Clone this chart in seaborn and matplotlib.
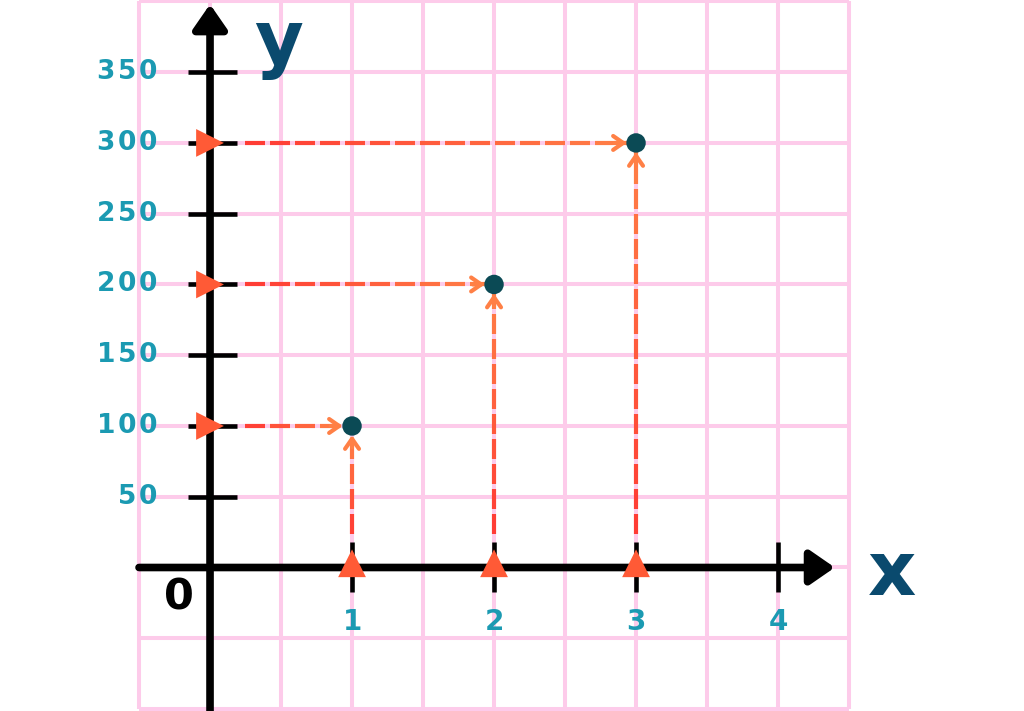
import numpy as np
import pandas as pd
import matplotlib
matplotlib.use("Agg")
import matplotlib.pyplot as plt
import seaborn as sns

# ==============================
# Data
# ==============================
x_vals = [1, 2, 3]
y_vals = [100, 200, 300]
x_ticks = [1, 2, 3, 4]
y_ticks = [50, 100, 150, 200, 250, 300, 350]
y_tick_labels = ["50", "100", "150", "200", "250", "300", "350"]
x_tick_labels = ["1", "2", "3", "4"]

points = pd.DataFrame({"x": x_vals, "y": y_vals})

# ==============================
# Style
# ==============================
sns.set_theme(style="white")
plt.rcParams['font.family'] = ['DejaVu Sans']

pink = "#FDCBEA"
teal = "#1B9AB2"
navy = "#0A4A6E"
dot = "#0B4A55"
red = np.array([255, 58, 52]) / 255
orange = np.array([255, 128, 70]) / 255
tri = "#FF5A36"

fig = plt.figure(figsize=(10.24, 7.11), dpi=100)
ax = fig.add_axes([0, 0, 1, 1])
ax.set_xlim(-1.479, 5.732)
ax.set_ylim(-101.4, 401)
ax.axis("off")

# grid
for gx in np.arange(-0.5, 4.51, 0.5):
    ax.plot([gx, gx], [-100, 400], color=pink, lw=2.9, zorder=1, solid_capstyle="butt")
for gy in np.arange(-100, 401, 50):
    ax.plot([-0.5, 4.5], [gy, gy], color=pink, lw=2.9, zorder=1, solid_capstyle="butt")

# axes with arrows
head = "-|>,head_length=0.26,head_width=0.18"
ax.annotate("", xy=(4.4, 0), xytext=(-0.5, 0),
            arrowprops=dict(arrowstyle=head, mutation_scale=57, lw=5.5, color="black",
                            joinstyle="round", shrinkA=0, shrinkB=0), zorder=3)
ax.annotate("", xy=(0, 398), xytext=(0, -102),
            arrowprops=dict(arrowstyle=head, mutation_scale=57, lw=5.5, color="black",
                            joinstyle="round", shrinkA=0, shrinkB=0), zorder=3)

# tick marks
for t in y_ticks:
    ax.plot([-0.155, 0.19], [t, t], color="black", lw=3.3, zorder=3, solid_capstyle="butt")
for t in x_ticks:
    ax.plot([t, t], [-17, 18], color="black", lw=3.3, zorder=3, solid_capstyle="butt")

# tick labels
for t, lab in zip(y_ticks, y_tick_labels):
    ax.text(-0.37, t, "\u200a".join(lab), color=teal, fontsize=19, fontweight="bold",
            ha="right", va="center", zorder=4)
for t, lab in zip(x_ticks, x_tick_labels):
    ax.text(t, -38.5, lab, color=teal, fontsize=20, fontweight="bold",
            ha="center", va="center", zorder=4)

ax.text(-0.22, -21.5, "0", color="black", fontsize=31, fontweight="bold",
        ha="center", va="center", zorder=4)
ax.text(0.48, 356, "y", color=navy, fontsize=54, fontweight="bold",
        ha="center", va="baseline", zorder=4)
ax.text(4.8, -19.5, "x", color=navy, fontsize=54, fontweight="bold",
        ha="center", va="baseline", zorder=4)


# gradient dashed arrows
def dashed_gradient(p0, p1, dash=20, gap=5, lw=3):
    d0 = ax.transData.transform(p0)
    d1 = ax.transData.transform(p1)
    length = np.hypot(*(d1 - d0))
    unit = (d1 - d0) / length
    inv = ax.transData.inverted()
    s = 0.0
    while s < length:
        e = min(s + dash, length)
        a = inv.transform(d0 + unit * s)
        b = inv.transform(d0 + unit * e)
        f = (s + e) / 2 / length
        c = red * (1 - f) + orange * f
        ax.plot([a[0], b[0]], [a[1], b[1]], color=c, lw=lw, zorder=2,
                solid_capstyle="butt")
        s = e + gap
    ax.annotate("", xy=p1, xytext=inv.transform(d1 - unit * 12),
                arrowprops=dict(arrowstyle="->,head_length=0.36,head_width=0.25",
                                mutation_scale=20, lw=lw, color=orange,
                                shrinkA=0, shrinkB=0), zorder=2)


for xv, yv in zip(x_vals, y_vals):
    dashed_gradient((0.245, yv), (xv - 0.065, yv))
    dashed_gradient((xv, 24), (xv, yv - 6.5))

# points and triangle markers
sns.scatterplot(data=points, x="x", y="y", s=14 ** 2, color=dot,
                edgecolor="none", zorder=5, ax=ax, legend=False)
sns.scatterplot(x=[0] * len(y_vals), y=y_vals, marker=">", s=20 ** 2, color=tri,
                edgecolor="none", zorder=5, ax=ax, legend=False)
sns.scatterplot(x=x_vals, y=[3] * len(x_vals), marker="^", s=20 ** 2, color=tri,
                edgecolor="none", zorder=5, ax=ax, legend=False)

ax.set_xlim(-1.479, 5.732)
ax.set_ylim(-101.4, 401)
ax.axis("off")

fig.savefig("out.png", dpi=100)
